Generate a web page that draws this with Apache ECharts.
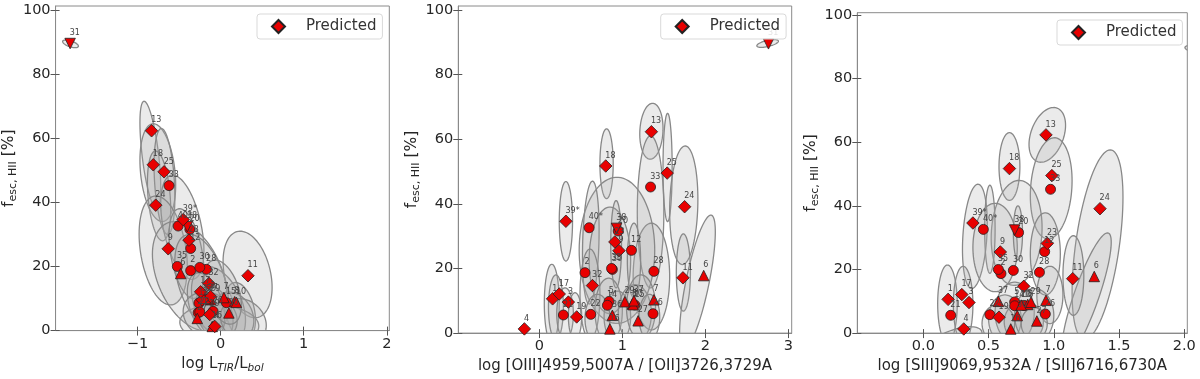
<!DOCTYPE html>
<html><head><meta charset="utf-8">
<script src="https://cdn.jsdelivr.net/npm/echarts@6/dist/echarts.min.js"></script>
<style>html,body{margin:0;padding:0;background:#fff}#c{width:1200px;height:379px}</style>
</head><body><div id="c"></div>
<script>
// ---------------- data ----------------
const ids   = ['1','2','3','4','5','6','7','8','9','10','11','12','13','14','15','16','17','18','19','20','21','22','23','24','25','26','27','28','29','30','31','32','33','35','36','37','38','39*','40*'];
const fesc  = [10.6,18.7,9.6,1.3,9.8,17.8,10.3,9.0,25.5,8.8,17.1,25.6,62.3,8.6,8.7,1.3,12.1,51.7,5.0,31.6,5.6,5.8,28.2,39.1,49.5,6.0,3.8,19.1,9.7,19.7,89.5,14.7,45.2,20.0,5.5,10.0,32.4,34.6,32.6];
const marks = ['d','c','d','d','c','t','t','t','d','t','d','c','d','c','c','t','d','d','d','c','c','c','d','d','d','c','t','c','t','c','v','d','c','c','t','t','v','d','c'];
const xTIR  = [-0.12,-0.36,-0.22,-0.07,-0.17,-0.48,0.04,0.17,-0.63,0.19,0.33,-0.36,-0.83,-0.26,0.07,-0.10,-0.24,-0.81,-0.13,-0.37,-0.27,-0.25,-0.38,-0.78,-0.68,-0.09,-0.28,-0.17,-0.12,-0.25,-1.81,-0.14,-0.62,-0.52,0.10,-0.15,-0.40,-0.45,-0.51];
const xO32  = [0.16,0.55,0.35,-0.18,0.84,1.98,1.38,1.12,0.96,1.13,1.73,1.11,1.35,0.82,1.15,0.85,0.24,0.80,0.45,0.95,0.29,0.62,0.91,1.75,1.54,1.37,1.19,1.38,1.03,0.88,2.76,0.64,1.34,0.87,0.88,1.14,0.93,0.32,0.60];
const xS32  = [0.19,0.595,0.35,0.31,0.70,1.31,0.94,0.80,0.59,0.75,1.145,0.93,0.94,0.70,0.77,0.67,0.295,0.66,0.58,0.73,0.21,0.51,0.95,1.354,0.985,0.935,0.87,0.89,0.825,0.69,2.12,0.77,0.975,0.575,0.72,0.575,0.70,0.38,0.46];

// ellipses: [xmin, xmax, ymin, ymax, tilt]
const ellTIR = [
  [-0.97,-0.72,38,71.5,-0.6],[-0.97,-0.54,34,64.5,-0.25],[-0.80,-0.55,30,63,-0.3],[-0.88,-0.60,28,56,-0.3],
  [-0.72,-0.20,16,48.5,-0.45],[-0.98,-0.40,8,42,-0.3],[-0.82,0.08,0,34,-0.4],[-0.62,-0.20,10,38,-0.4],
  [-0.55,0.10,0,30,-0.45],[0.03,0.62,4,31,-0.3],[0.05,0.42,-3,15,-0.3],[-0.35,0.30,-4,20,-0.4],
  [-0.49,0.46,-4,8,-0.1],[-0.30,0.15,-3,14,-0.3],[-0.10,0.40,-3,12,-0.2],[-0.40,0.05,-2,18,-0.4],
  [-0.45,0.20,-3,12,-0.2],[0.00,0.55,-4,10,-0.2],[-0.20,0.25,2,22,-0.4],
  [-1.90,-1.71,88.2,90.6,-0.6]
];
const ellO32 = [
  [1.21,1.49,53.8,71.1,0.1],[1.49,1.60,34.5,68,0],[0.73,0.89,41.6,63.2,0],[1.18,1.50,14,61,0],
  [1.13,1.57,1,34,0],[1.57,1.91,21.2,57.9,0.1],[1.65,1.82,6.8,30.7,0],[1.69,2.12,-5,36.5,0.75],
  [0.24,0.40,22.3,46.9,0],[0.48,1.39,3,48.2,0],[0.52,0.72,9,47,0.2],[0.60,1.10,6,39,0],
  [1.06,1.22,11,34,0],[0.86,0.99,14,41,0],[0.06,0.24,-3,21.3,0],[0.11,0.29,-2,18,0],
  [0.21,0.41,-2,14,0],[0.35,0.51,-2,12.5,0],[0.49,0.73,-2,26,0],[0.67,1.00,-3,17,0],
  [0.78,1.10,-3,13,0],[0.95,1.35,-3,15,0],[1.05,1.40,-2,18,0],[1.20,1.45,-2,12,0],
  [0.55,0.85,-3,12,0],[2.62,2.88,88.4,90.8,0.6]
];
const ellS32 = [
  [0.81,1.09,53.7,70.9,0.35],[0.58,0.74,41.7,63,0],[0.82,1.14,29.6,61.4,0.15],[1.14,1.53,-2,57.6,0.5],
  [1.06,1.44,-8,31.5,0.85],[1.07,1.23,5.6,30.6,0],[0.52,0.91,15,48,0.1],[0.30,0.49,14,46.8,0.25],
  [0.47,0.55,18.8,46.5,0],[0.38,0.72,13,40.8,0],[0.82,1.05,12,37.8,0],[0.69,0.76,23,40,0],
  [0.11,0.26,-3,21.4,0],[0.23,0.38,-3,21,0],[0.87,1.07,3,21,0],[0.0,0.45,-8,2,0.6],
  [0.50,0.75,-3,12,0],[0.55,0.85,-3,16,0],[0.62,0.92,-3,10,0],[0.70,1.00,-3,14,0],
  [0.45,0.70,-3,9,0],[0.75,0.95,-2,8,0],[2.005,2.25,87.5,90.5,-0.5]
];
const yTicks  = [0,20,40,60,80,100];
const xTicks1 = [-1,0,1,2];
const xTicks2 = [0,1,2,3];
const xTicks3 = [0,0.5,1,1.5,2];

// ---------------- chart ----------------
const FONT = 'DejaVu Sans';
const TXT = '#262626';
const SPINE = '#8a8a8a';
const RED = '#e80000';
const panels = [
  {xs:xTIR, ell:ellTIR, ticks:xTicks1, grid:{left:54.3,right:810.7,top:6,bottom:40.7}, xr:[-1.985,2.03], yr:[0,101.2],
   fmt:v=>v<0?'\u2212'+(-v):String(v), xname:'{m|log L}{s|TIR}{m|/L}{s|bol}', ygap:29, leg:[257,14]},
  {xs:xO32, ell:ellO32, ticks:xTicks2, grid:{left:458.3,right:408.3,top:6,bottom:40.7}, xr:[-0.976,3.04], yr:[0,101.2],
   fmt:v=>v<0?'\u2212'+(-v):String(v), xname:'{m|log [OIII]4959,5007A / [OII]3726,3729A}', ygap:33, leg:[660.7,14]},
  {xs:xS32, ell:ellS32, ticks:xTicks3, grid:{left:857.3,right:12.7,top:12.7,bottom:39.7}, xr:[-0.506,2.023], yr:[0,100.7],
   fmt:v=>v.toFixed(1), xname:'{m|log [SIII]9069,9532A / [SII]6716,6730A}', ygap:31, leg:[1057,20]}
];
const richX = {
  m:{fontFamily:FONT,fontSize:15,color:TXT,lineHeight:20},
  s:{fontFamily:FONT,fontSize:10.5,fontStyle:'italic',color:TXT,lineHeight:12,verticalAlign:'bottom'}
};
const richY = {
  m:{fontFamily:FONT,fontSize:15.5,color:TXT,lineHeight:20},
  s:{fontFamily:FONT,fontSize:11,color:TXT,lineHeight:12,verticalAlign:'bottom'}
};

function renderEllipse(params, api){
  const x0=api.value(0), x1=api.value(1), y0=api.value(2), y1=api.value(3), r=api.value(4);
  const cx=(x0+x1)/2, cy=(y0+y1)/2, sx=(x1-x0)/2, sy=(y1-y0)/2, q=Math.sqrt(1-r*r);
  const pts=[];
  for(let i=0;i<90;i++){
    const t=i/90*2*Math.PI;
    pts.push(api.coord([cx+sx*Math.cos(t), cy+sy*(r*Math.cos(t)+q*Math.sin(t))]));
  }
  const cs=params.coordSys;
  return {type:'polygon', shape:{points:pts},
    style:{fill:'rgba(170,170,170,0.24)', stroke:'#888888', lineWidth:1.3},
    clipPath:{type:'rect', shape:{x:cs.x,y:cs.y,width:cs.width,height:cs.height}}};
}

const grid=[], xAxis=[], yAxis=[], series=[], legend=[];
const symbolOf={d:'diamond',c:'circle',t:'triangle',v:'triangle'};
const sizeOf={d:12.5,c:10,t:10.5,v:10.5};

panels.forEach((p,k)=>{
  grid.push(Object.assign({show:true,borderColor:SPINE,borderWidth:1,backgroundColor:'transparent'},p.grid));
  const common = {gridIndex:k, type:'value', splitLine:{show:false}};
  xAxis.push(Object.assign({}, common, {min:p.xr[0], max:p.xr[1], position:'bottom',
    axisLine:{show:true,onZero:false,lineStyle:{color:SPINE,width:1}},
    axisTick:{show:true,inside:false,length:5,customValues:p.ticks,lineStyle:{color:'#555',width:1}},
    axisLabel:{show:true,customValues:p.ticks,formatter:p.fmt,fontFamily:FONT,fontSize:14.5,color:TXT,margin:6},
    name:p.xname, nameLocation:'middle', nameGap:21, nameTextStyle:{rich:richX}}));
  xAxis.push(Object.assign({}, common, {min:p.xr[0], max:p.xr[1], position:'bottom',
    axisLine:{show:false,onZero:false}, axisLabel:{show:false},
    axisTick:{show:true,inside:true,length:4,customValues:p.ticks,lineStyle:{color:'#555',width:1}}}));
  yAxis.push(Object.assign({}, common, {min:p.yr[0], max:p.yr[1], position:'left',
    axisLine:{show:true,onZero:false,lineStyle:{color:SPINE,width:1}},
    axisTick:{show:true,inside:false,length:5,customValues:yTicks,lineStyle:{color:'#555',width:1}},
    axisLabel:{show:true,customValues:yTicks,fontFamily:FONT,fontSize:14.5,color:TXT,margin:5},
    name:'{m|f}{s|esc, HII}{m| [%]}', nameLocation:'middle', nameRotate:90, nameGap:p.ygap,
    nameTextStyle:{rich:richY}}));
  yAxis.push(Object.assign({}, common, {min:p.yr[0], max:p.yr[1], position:'left',
    axisLine:{show:false,onZero:false}, axisLabel:{show:false},
    axisTick:{show:true,inside:true,length:4,customValues:yTicks,lineStyle:{color:'#555',width:1}}}));

  series.push({type:'custom', name:'ell'+k, xAxisIndex:2*k, yAxisIndex:2*k, z:1, silent:true,
    renderItem:renderEllipse, data:p.ell, encode:{x:[0,1], y:[2,3]}});

  ['c','t','v','d'].forEach(m=>{
    const data=[];
    for(let i=0;i<ids.length;i++) if(marks[i]===m) data.push([p.xs[i], fesc[i], ids[i]]);
    const s=sizeOf[m];
    series.push({type:'scatter', name: m==='d'?'Predicted':('obs-'+m+k), xAxisIndex:2*k, yAxisIndex:2*k,
      z:3, clip:true, symbol:symbolOf[m], symbolSize:s, symbolRotate: m==='v'?180:0,
      itemStyle:{color:RED, borderColor:'#222', borderWidth:0.8, opacity:1},
      label:{show:true, formatter:q=>q.value[2], position:[s/2, s/2-10], align:'left', verticalAlign:'middle',
        fontFamily:FONT, fontSize:8, color:'#444'},
      emphasis:{disabled:true}, animation:false, data:data});
  });

  legend.push({data:['Predicted'], left:p.leg[0], top:p.leg[1], orient:'horizontal', icon:'diamond',
    itemWidth:13, itemHeight:13, padding:[5,6,5,14], selectedMode:false,
    textStyle:{fontFamily:FONT, fontSize:15, color:'#333', padding:[0,0,0,16]},
    backgroundColor:'rgba(255,255,255,0.85)', borderColor:'#d9d9d9', borderWidth:1, borderRadius:3});
});

const chart = echarts.init(document.getElementById('c'), null, {renderer:'canvas'});
chart.setOption({animation:false, backgroundColor:'#fff', grid, xAxis, yAxis, series, legend});
</script>
</body></html>
